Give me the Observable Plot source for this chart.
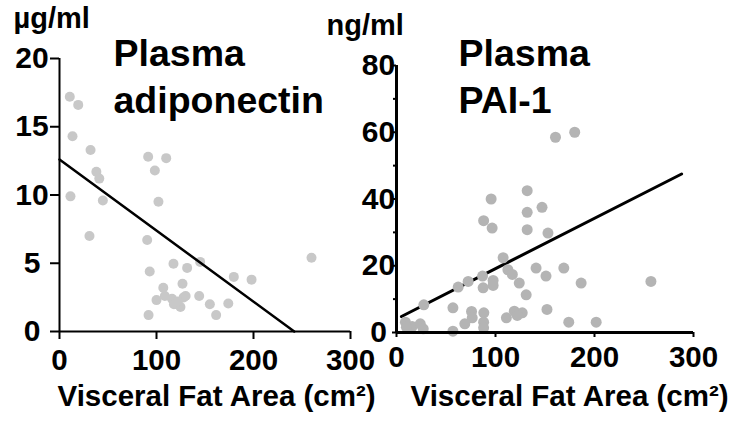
<!DOCTYPE html>
<html><head><meta charset="utf-8">
<script src="https://cdn.jsdelivr.net/npm/d3@7"></script>
<script src="https://cdn.jsdelivr.net/npm/@observablehq/plot@0.6"></script>
<style>
body{margin:0;background:#fff;}
#wrap{position:relative;width:739px;height:422px;overflow:hidden;background:#fff;}
#wrap svg{position:absolute;top:0;}
</style></head><body><div id="wrap"></div>
<script>
// Visceral fat area (cm²) vs plasma adiponectin (µg/ml)
const adipoX = [10.6, 19.3, 13.4, 32, 38, 41, 11.3, 44.7, 91.4, 110, 98.3, 102, 30.9, 90.4, 93, 117.5, 131.6, 145, 126.8, 107, 108.6, 100, 116, 121.3, 124.7, 128, 130, 144, 155, 161.5, 174, 179.7, 198, 259.8, 91.8, 118, 122];
const adipoY = [17.2, 16.6, 14.3, 13.3, 11.7, 11.2, 9.9, 9.6, 12.8, 12.7, 11.8, 9.5, 7.0, 6.7, 4.4, 4.96, 4.66, 5.1, 3.5, 3.2, 2.6, 2.3, 2.4, 2.0, 1.8, 2.5, 2.6, 2.6, 2.0, 1.2, 2.05, 4.0, 3.8, 5.4, 1.2, 2.0, 2.2];
const adipoLineX = [0, 242];
const adipoLineY = [12.6, 0];

// Visceral fat area (cm²) vs plasma PAI-1 (ng/ml)
const paiX = [160.6, 180, 95.6, 132, 132, 147, 88, 96.6, 132, 153, 107.7, 112.5, 117, 141, 169, 151, 86.9, 97.6, 97.6, 124, 186.5, 257, 72.4, 62.3, 87.5, 131, 27.6, 57, 152, 75.8, 88.2, 119, 127, 122, 111, 76.5, 69, 88, 88, 57, 174, 201.7, 9, 15.8, 24, 27, 10];
const paiY = [58.5, 60, 40, 42.5, 36, 37.5, 33.5, 31.3, 30.8, 29.8, 22.4, 18.8, 17.4, 19.3, 19.3, 16.9, 16.9, 15.6, 14.1, 14.8, 14.8, 15.3, 15.3, 13.6, 13.4, 11.3, 8.3, 7.4, 6.9, 6.3, 5.9, 6.4, 5.9, 5.1, 4.4, 4.4, 2.6, 3.1, 1.4, 0.4, 3.1, 3.1, 3.1, 1.8, 2.6, 1.1, 1.6];
const paiLineX = [5, 288];
const paiLineY = [4.8, 47.5];

const xTicks = [0, 100, 200, 300];
const adipoTicks = [0, 5, 10, 15, 20];
const paiTicks = [0, 20, 40, 60, 80];
const paiMinorTicks = [10, 30, 50, 70];

const xLabel = "Visceral Fat Area (cm²)";
const adipoUnit = "µg/ml";
const paiUnit = "ng/ml";
const adipoTitle = "Plasma\nadiponectin";
const paiTitle = "Plasma\nPAI-1";

const font = "'Liberation Sans', Arial, Helvetica, sans-serif";
const baseStyle = {fontFamily: font, fontWeight: "bold", background: "transparent", overflow: "visible", color: "#000"};
const idx = (a) => d3.range(a.length);

const left = Plot.plot({
  width: 370, height: 422,
  marginLeft: 59, marginRight: 20, marginTop: 58, marginBottom: 91,
  style: baseStyle,
  x: {domain: [0, 300]},
  y: {domain: [0, 20]},
  marks: [
    Plot.dot(idx(adipoX), {x: i => adipoX[i], y: i => adipoY[i], r: 5, fill: "#c8c8c8"}),
    Plot.line(idx(adipoLineX), {x: i => adipoLineX[i], y: i => adipoLineY[i], stroke: "#000", strokeWidth: 2.5}),
    Plot.ruleX([0], {stroke: "#000", strokeWidth: 2}),
    Plot.ruleY([0], {stroke: "#000", strokeWidth: 2}),
    Plot.axisY({ticks: adipoTicks, tickSize: 9, tickPadding: 18.5, textAnchor: "middle", fontSize: 30, fontWeight: "bold", strokeWidth: 2, label: null}),
    Plot.axisX({ticks: xTicks, tickSize: 8, tickPadding: 10, fontSize: 29.5, fontWeight: "bold", strokeWidth: 2, label: null}),
    Plot.text([adipoUnit], {text: d => d, frameAnchor: "top-left", dx: -46, dy: -31, lineAnchor: "bottom", textAnchor: "start", fontSize: 29}),
    Plot.text([adipoTitle], {text: d => d, frameAnchor: "top-left", dx: 54, dy: 54, lineAnchor: "bottom", textAnchor: "start", fontSize: 37.5, lineHeight: 1.25}),
    Plot.text([xLabel], {text: d => d, frameAnchor: "bottom-left", dx: -2, dy: 74, lineAnchor: "bottom", textAnchor: "start", fontSize: 29.5})
  ]
});

const right = Plot.plot({
  width: 429, height: 422,
  marginLeft: 86, marginRight: 46, marginTop: 65, marginBottom: 90,
  style: baseStyle,
  x: {domain: [0, 300]},
  y: {domain: [0, 80]},
  marks: [
    Plot.line(idx(paiLineX), {x: i => paiLineX[i], y: i => paiLineY[i], stroke: "#000", strokeWidth: 3}),
    Plot.dot(idx(paiX), {x: i => paiX[i], y: i => paiY[i], r: 5.5, fill: "#b4b4b4"}),
    Plot.ruleX([0], {stroke: "#000", strokeWidth: 3}),
    Plot.ruleY([0], {stroke: "#000", strokeWidth: 3}),
    Plot.axisY({ticks: paiMinorTicks, tickSize: 3, tickFormat: () => "", strokeWidth: 2, label: null}),
    Plot.axisY({ticks: paiTicks, tickSize: 4, tickPadding: 14, textAnchor: "middle", fontSize: 30, fontWeight: "bold", strokeWidth: 2, label: null}),
    Plot.axisX({ticks: xTicks, tickSize: 5, tickPadding: 9, fontSize: 29.5, fontWeight: "bold", strokeWidth: 2, label: null}),
    Plot.text([paiUnit], {text: d => d, frameAnchor: "top-left", dx: -70, dy: -31, lineAnchor: "bottom", textAnchor: "start", fontSize: 29}),
    Plot.text([paiTitle], {text: d => d, frameAnchor: "top-left", dx: 62, dy: 47, lineAnchor: "bottom", textAnchor: "start", fontSize: 37.5, lineHeight: 1.25}),
    Plot.text([xLabel], {text: d => d, frameAnchor: "bottom-left", dx: 14, dy: 73, lineAnchor: "bottom", textAnchor: "start", fontSize: 29.5})
  ]
});

const wrap = document.getElementById("wrap");
left.style.left = "0px";
right.style.left = "310px";
wrap.appendChild(left);
wrap.appendChild(right);
</script>
</body></html>
